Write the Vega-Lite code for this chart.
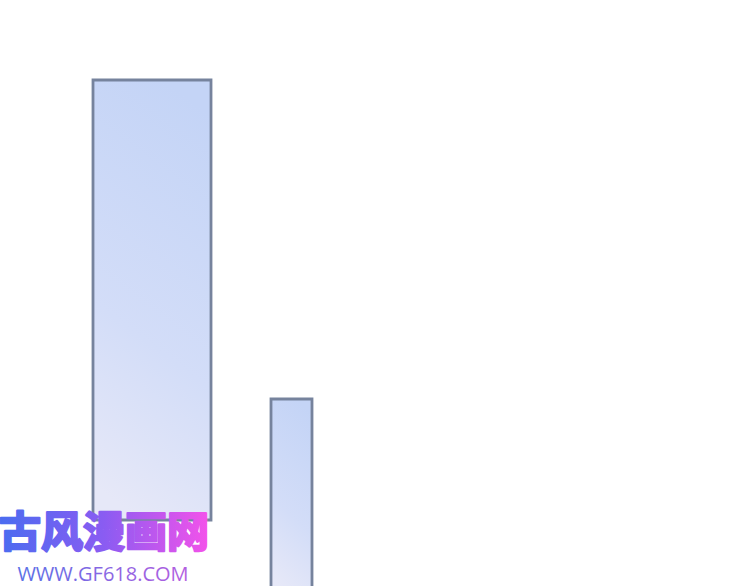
{
  "$schema": "https://vega.github.io/schema/vega-lite/v6.json",
  "width": 750,
  "height": 586,
  "autosize": {"type": "none"},
  "padding": 0,
  "background": "white",
  "config": {"view": {"stroke": null}},
  "datasets": {
    "panels": [
      {"panel": "tall", "left": 93, "right": 211, "top": 80, "bottom": 520},
      {"panel": "narrow", "left": 271, "right": 312, "top": 399, "bottom": 592}
    ],
    "mark_cn": [{"label": "古风漫画网", "px": 104, "py": 534}],
    "mark_url": [{"label": "WWW.GF618.COM", "px": 103, "py": 575}]
  },
  "layer": [
    {
      "data": {"name": "panels"},
      "mark": {
        "type": "rect",
        "stroke": "#76839d",
        "strokeWidth": 2.8,
        "fill": {
          "gradient": "linear",
          "x1": 0.6, "y1": 0, "x2": 0.4, "y2": 1,
          "stops": [
            {"offset": 0, "color": "#c4d4f6"},
            {"offset": 0.6, "color": "#d3ddf8"},
            {"offset": 1, "color": "#e6e8f8"}
          ]
        }
      },
      "encoding": {
        "x": {"field": "left", "type": "quantitative", "scale": {"domain": [0, 750]}, "axis": null},
        "x2": {"field": "right"},
        "y": {"field": "top", "type": "quantitative", "scale": {"domain": [0, 586], "reverse": true}, "axis": null},
        "y2": {"field": "bottom"}
      }
    },
    {
      "data": {"name": "mark_cn"},
      "mark": {
        "type": "text",
        "font": "Noto Sans CJK SC",
        "fontWeight": "bold",
        "fontSize": 42,
        "align": "center",
        "baseline": "middle",
        "strokeWidth": 2.5,
        "strokeJoin": "round",
        "stroke": {
          "gradient": "linear",
          "x1": 0, "y1": 0, "x2": 1, "y2": 0,
          "stops": [
            {"offset": 0, "color": "#4a6cf0"},
            {"offset": 0.5, "color": "#8a5cf2"},
            {"offset": 1, "color": "#f452ea"}
          ]
        },
        "fill": {
          "gradient": "linear",
          "x1": 0, "y1": 0, "x2": 1, "y2": 0,
          "stops": [
            {"offset": 0, "color": "#4a6cf0"},
            {"offset": 0.5, "color": "#8a5cf2"},
            {"offset": 1, "color": "#f452ea"}
          ]
        }
      },
      "encoding": {
        "x": {"field": "px", "type": "quantitative", "scale": {"domain": [0, 750]}, "axis": null},
        "y": {"field": "py", "type": "quantitative", "scale": {"domain": [0, 586], "reverse": true}, "axis": null},
        "text": {"field": "label"}
      }
    },
    {
      "data": {"name": "mark_url"},
      "mark": {
        "type": "text",
        "font": "Open Sans",
        "fontSize": 20,
        "align": "center",
        "baseline": "middle",
        "fill": {
          "gradient": "linear",
          "x1": 0, "y1": 0, "x2": 1, "y2": 0,
          "stops": [
            {"offset": 0, "color": "#5a70e6"},
            {"offset": 1, "color": "#b45ee0"}
          ]
        }
      },
      "encoding": {
        "x": {"field": "px", "type": "quantitative", "scale": {"domain": [0, 750]}, "axis": null},
        "y": {"field": "py", "type": "quantitative", "scale": {"domain": [0, 586], "reverse": true}, "axis": null},
        "text": {"field": "label"}
      }
    }
  ]
}
